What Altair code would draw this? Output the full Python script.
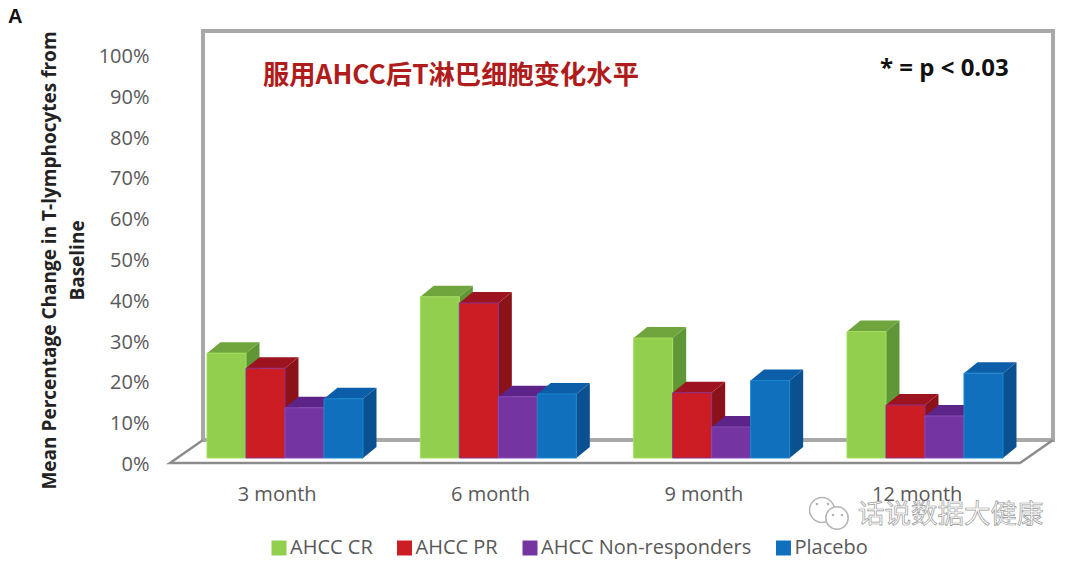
import altair as alt
import pandas as pd

months = ["3 month", "6 month", "9 month", "12 month"]
series = ["AHCC CR", "AHCC PR", "AHCC Non-responders", "Placebo"]
cr = [25.7, 39.5, 29.4, 31.0]
pr = [22.0, 38.0, 16.0, 13.0]
nonresp = [12.3, 15.0, 7.6, 10.3]
placebo = [14.5, 15.7, 19.0, 20.8]
y_ticks = [0, 10, 20, 30, 40, 50, 60, 70, 80, 90, 100]
front = ["#92cf4f", "#cc1c24", "#7435a2", "#1070bd"]
side = ["#5f9636", "#8c1219", "#5a2a8a", "#0b5090"]
top = ["#6fa53c", "#9e1320", "#5c2488", "#0d5ea8"]
edge = ["#a4de5c", "#8a2f8c", "#8a4ab8", "#1a86cc"]

PXU = 213.33
W, H = 890, 435
YMAX = H / 4.08
XMAX = W / PXU
BAR_W = 39 / PXU
DX = 13.5 / PXU
DY = 11 / 4.08
BASE = 5 / 4.08
INSET = 37 / PXU
WALL_X = 33 / PXU
WALL_Y = 23 / 4.08
FLOOR_R = 850 / PXU
WALL_TOP = 432 / 4.08

xs = alt.Scale(domain=[0, XMAX], nice=False, zero=False)
ys = alt.Scale(domain=[0, YMAX], nice=False, zero=False)
FONT = "Open Sans"

AX = alt.Axis(
    values=[0.5, 1.5, 2.5, 3.5],
    labelExpr="['3 month','6 month','9 month','12 month'][floor(datum.value)]",
    title=None, domain=False, ticks=False, grid=False, labelFont=FONT,
    labelFontSize=20, labelColor="#595959", labelPadding=21, labelAngle=0,
    labelFlush=False, labelOverlap=False)
AY = alt.Axis(
    values=y_ticks, labelExpr="datum.value + '%'",
    title=["Mean Percentage Change in T-lymphocytes from", "Baseline"],
    titleFont=FONT, titleFontSize=19, titleFontWeight="bold", titleColor="#222222",
    titleLineHeight=28, titleX=-111, titleY=232, titleAngle=270, titleAlign="center",
    domain=False, ticks=False, grid=False, labelFont=FONT, labelFontSize=20,
    labelColor="#595959", labelPadding=21, labelOffset=1.5, labelOverlap=False, labelFlush=False)


def X(f):
    return alt.X(f, type="quantitative", scale=xs, axis=AX)


def Y(f):
    return alt.Y(f, type="quantitative", scale=ys, axis=AY)


wall_pts = [(WALL_X, WALL_Y), (WALL_X, WALL_TOP), (WALL_X + FLOOR_R, WALL_TOP),
            (WALL_X + FLOOR_R, WALL_Y), (WALL_X, WALL_Y)]
floor_pts = [(WALL_X, WALL_Y), (0, 0), (FLOOR_R, 0), (WALL_X + FLOOR_R, WALL_Y)]
wall = pd.DataFrame([{"x": a, "y": b, "i": i} for i, (a, b) in enumerate(wall_pts)])
floor = pd.DataFrame([{"x": a, "y": b, "i": i} for i, (a, b) in enumerate(floor_pts)])

layers = [
    alt.Chart(wall).mark_line(color="#a8a8a8", strokeWidth=4, strokeJoin="miter").encode(
        x=X("x"), y=Y("y"), order="i:Q"),
    alt.Chart(floor).mark_line(color="#8c8c8c", strokeWidth=2.5, strokeJoin="miter").encode(
        x=X("x"), y=Y("y"), order="i:Q"),
]

for s, values in enumerate([cr, pr, nonresp, placebo]):
    name = series[s]
    rows_side, rows_top, rows_front = [], [], []
    for g, v in enumerate(values):
        x0 = g + INSET + s * BAR_W
        x1 = x0 + BAR_W
        t = v + BASE
        rows_front.append({"series": name, "x0": x0, "x1": x1, "y0": BASE, "y1": t})
        rows_side += [
            {"g": g, "x": x1, "a": BASE, "b": t},
            {"g": g, "x": x1 + DX, "a": BASE + DY, "b": t + DY},
        ]
        rows_top += [
            {"g": g, "x": x0, "a": t, "b": t},
            {"g": g, "x": x0 + DX, "a": t, "b": t + DY},
            {"g": g, "x": x1, "a": t, "b": t + DY},
            {"g": g, "x": x1 + DX, "a": t + DY, "b": t + DY},
        ]
    layers.append(alt.Chart(pd.DataFrame(rows_side)).mark_area(color=side[s], interpolate="linear").encode(
        x=X("x"), y=Y("a"), y2="b:Q", detail="g:N"))
    layers.append(alt.Chart(pd.DataFrame(rows_top)).mark_area(color=top[s], interpolate="linear").encode(
        x=X("x"), y=Y("a"), y2="b:Q", detail="g:N"))
    layers.append(alt.Chart(pd.DataFrame(rows_front)).mark_bar(stroke=edge[s], strokeWidth=1).encode(
        x=X("x0"), x2="x1:Q", y=Y("y0"), y2="y1:Q",
        color=alt.Color("series:N", scale=alt.Scale(domain=series, range=front),
                        legend=alt.Legend(
                            title=None, orient="none", legendX=99, legendY=510, columns=4,
                            gridAlign="none", columnPadding=21.5, labelOffset=1, padding=0,
                            symbolType="square", symbolSize=225, symbolStrokeWidth=0,
                            labelFont=FONT, labelFontSize=20, labelColor="#595959",
                            labelLimit=300))))


def note(text, px, py, **kw):
    return alt.Chart(alt.Data(values=[{"t": text}])).mark_text(text=text, **kw).encode(
        x=alt.value(px - 170), y=alt.value(py - 28))


def dot(px, py, size, fill, stroke, width):
    return alt.Chart(alt.Data(values=[{"t": "b"}])).mark_point(
        shape="circle", size=size, filled=True, fill=fill, stroke=stroke, strokeWidth=width, opacity=1
    ).encode(x=alt.value(px - 170), y=alt.value(py - 28))


layers += [
    note("A", 8, 23, font="Liberation Sans", fontSize=20, fontWeight="bold", color="#111111",
         align="left", baseline="alphabetic"),
    note("服用AHCC后T淋巴细胞变化水平", 263, 76, font="Noto Sans CJK SC", fontSize=26.3,
         fontWeight="bold", color="#b01c1c", align="left", baseline="middle"),
    note("* = p < 0.03", 880, 69, font=FONT, fontSize=24, fontWeight="bold", color="#111111",
         align="left", baseline="middle"),
    dot(822, 510, 620, "#ffffff", "#b5b5b5", 1.5),
    dot(817, 504, 7, "#b5b5b5", "#b5b5b5", 0),
    dot(828, 504, 7, "#b5b5b5", "#b5b5b5", 0),
    dot(837, 518, 500, "#ffffff", "#b5b5b5", 1.5),
    dot(833, 515, 7, "#b5b5b5", "#b5b5b5", 0),
    dot(842, 515, 7, "#b5b5b5", "#b5b5b5", 0),
    note("话说数据大健康", 858, 515, font="Noto Sans CJK SC", fontSize=26.5, color="#ffffff",
         stroke="#999999", strokeWidth=0.7, align="left", baseline="middle"),
]

chart = alt.layer(*layers).properties(
    width=W, height=H,
    autosize=alt.AutoSizeParams(type="none"),
    padding={"left": 162, "top": 20, "right": 12, "bottom": 100},
).configure_view(stroke=None)

chart.save("out.html", embed_options={"renderer": "svg", "actions": False})
